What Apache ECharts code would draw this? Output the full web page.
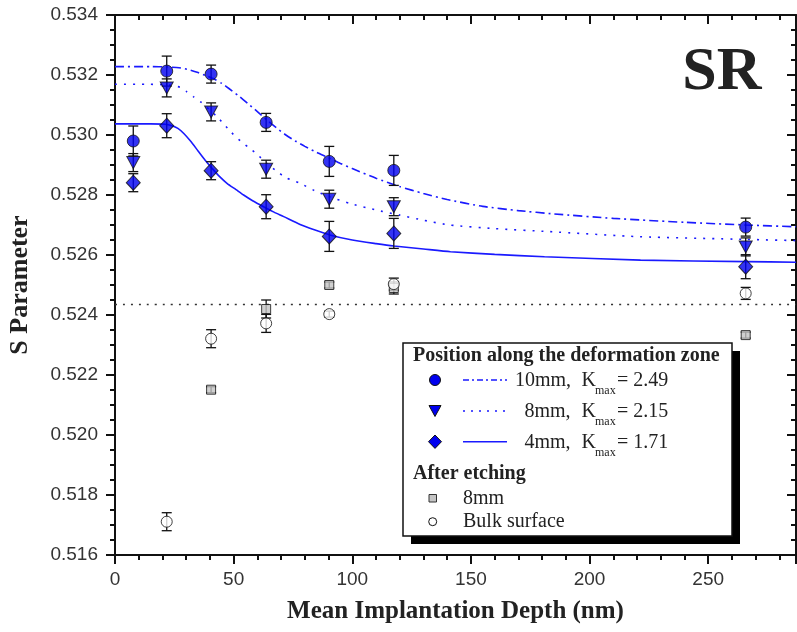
<!DOCTYPE html>
<html>
<head>
<meta charset="utf-8">
<script src="https://cdn.jsdelivr.net/npm/echarts@6/dist/echarts.min.js"></script>
<style>
  html, body { margin: 0; padding: 0; background: #fff; }
  #chart { width: 797px; height: 632px; }
</style>
</head>
<body>
<div id="chart"></div>
<script>
// measured points (depth in nm, S parameter, error)
const depth = [7.7, 21.8, 40.5, 63.7, 90.3, 117.5, 265.8];
const s10 = [0.5298, 0.53213, 0.53203, 0.53042, 0.52912, 0.52882, 0.52693];
const e10 = [0.0005, 0.0005, 0.0003, 0.0003, 0.0005, 0.0005, 0.0003];
const s8 = [0.52908, 0.53157, 0.53077, 0.52886, 0.52786, 0.52761, 0.52627];
const e8 = [0.0003, 0.0003, 0.0003, 0.0003, 0.0003, 0.0003, 0.0003];
const s4 = [0.52841, 0.53031, 0.52881, 0.52761, 0.52662, 0.52672, 0.52561];
const e4 = [0.0003, 0.0004, 0.0003, 0.0004, 0.0005, 0.0005, 0.0004];

// after etching
const etchDepth = [40.5, 63.7, 90.3, 117.5, 265.8];
const sEtch = [0.52151, 0.5242, 0.525, 0.5249, 0.52333];
const eEtch = [0.0001, 0.0003, 0.0001, 0.0002, 0.0001];
const bulkDepth = [21.8, 40.5, 63.7, 90.3, 117.5, 265.8];
const sBulk = [0.51711, 0.52321, 0.52372, 0.52403, 0.52503, 0.52472];
const eBulk = [0.0003, 0.0003, 0.0003, 0.0001, 0.0002, 0.0002];

// fitted curves
const fit10X = [0, 15, 22, 27, 31, 35, 39, 42, 45, 48, 52, 56, 60, 64, 68, 72, 76, 80, 85, 90, 95, 100, 110, 120, 130, 140, 155, 170, 185, 210, 240, 266, 287];
const fit10Y = [0.53228, 0.53228, 0.53227, 0.53224, 0.53218, 0.53208, 0.53196, 0.53186, 0.53172, 0.53155, 0.53131, 0.53105, 0.53078, 0.5305, 0.53024, 0.53, 0.5298, 0.52962, 0.52942, 0.52924, 0.52905, 0.52888, 0.52856, 0.52828, 0.52805, 0.52785, 0.52762, 0.52748, 0.52737, 0.52722, 0.52709, 0.527, 0.52694];
const fit8X = [0, 15, 20, 24, 27.5, 30.3, 33, 36, 40, 43, 46, 49, 52, 56, 60, 64, 68, 72, 78, 84, 90, 99, 110, 120, 130, 141, 160, 183, 221, 266, 287];
const fit8Y = [0.53169, 0.53169, 0.53168, 0.53165, 0.53159, 0.53144, 0.53128, 0.53111, 0.53083, 0.53061, 0.53035, 0.53009, 0.52986, 0.5296, 0.52935, 0.52905, 0.5288, 0.52858, 0.52839, 0.52815, 0.52795, 0.52772, 0.5275, 0.52733, 0.52716, 0.527, 0.52688, 0.52678, 0.52661, 0.52652, 0.52648];
const fit4X = [0, 15, 21, 24, 26.5, 29, 32, 35, 38, 41, 44, 47.2, 51, 54.2, 58, 62.6, 67, 71.1, 78, 84, 90.5, 100, 110, 117.5, 130, 141.4, 160, 181, 221.5, 266, 287];
const fit4Y = [0.53037, 0.53037, 0.53036, 0.53031, 0.53022, 0.53005, 0.52978, 0.52947, 0.52916, 0.52888, 0.52862, 0.52839, 0.52818, 0.528, 0.52781, 0.52761, 0.52743, 0.52728, 0.52702, 0.52684, 0.52667, 0.5265, 0.52638, 0.5263, 0.5262, 0.52611, 0.52602, 0.52594, 0.52583, 0.52578, 0.52576];

// dotted reference line
const bulkLineX = [0, 287];
const bulkLineY = [0.52435, 0.52435];

const xTicks = { min: 0, max: 287, interval: 50 };
const yTicks = { min: 0.516, max: 0.534, interval: 0.002 };

const blue = "#0000f0";
const lineBlue = "#1a1aff";
const serif = "Liberation Serif";
const sans = "Liberation Sans";

const chart = echarts.init(document.getElementById("chart"));

const pairs = (xs, ys) => xs.map((x, i) => [x, ys[i]]);
const triples = (xs, ys, es) => xs.map((x, i) => [x, ys[i], es[i]]);

function errorBars(xs, ys, es) {
  return {
    type: "custom",
    z: 3,
    silent: true,
    data: triples(xs, ys, es),
    renderItem: function (params, api) {
      const x = api.value(0);
      const y = api.value(1);
      const e = api.value(2);
      const top = api.coord([x, y + e]);
      const bot = api.coord([x, y - e]);
      const hw = 5;
      const st = { stroke: "#111", lineWidth: 1.3 };
      return {
        type: "group",
        children: [
          { type: "line", shape: { x1: top[0], y1: top[1], x2: bot[0], y2: bot[1] }, style: st },
          { type: "line", shape: { x1: top[0] - hw, y1: top[1], x2: top[0] + hw, y2: top[1] }, style: st },
          { type: "line", shape: { x1: bot[0] - hw, y1: bot[1], x2: bot[0] + hw, y2: bot[1] }, style: st },
        ],
      };
    },
  };
}

function fitLine(xs, ys, dash, color, width) {
  return {
    type: "line",
    data: pairs(xs, ys),
    symbol: "none",
    smooth: 0.2,
    z: 2,
    silent: true,
    lineStyle: { color: color || lineBlue, width: width || 1.6, type: dash },
  };
}

function dots(xs, ys, symbol, size, fill, rotate) {
  return {
    type: "scatter",
    data: pairs(xs, ys),
    symbol: symbol,
    symbolSize: size,
    symbolRotate: rotate || 0,
    z: 5,
    itemStyle: { color: fill, borderColor: "#111", borderWidth: 1 },
  };
}

const baseX = {
  type: "value",
  min: xTicks.min,
  max: xTicks.max,
  interval: xTicks.interval,
  splitLine: { show: false },
  axisLine: { show: true, onZero: false, lineStyle: { color: "#111", width: 2 } },
  minorTick: { show: true, splitNumber: 5, length: 5, lineStyle: { color: "#111", width: 2 } },
};
const baseY = {
  type: "value",
  min: yTicks.min,
  max: yTicks.max,
  interval: yTicks.interval,
  splitLine: { show: false },
  axisLine: { show: true, onZero: false, lineStyle: { color: "#111", width: 2 } },
  minorTick: { show: true, splitNumber: 4, length: 5, lineStyle: { color: "#111", width: 2 } },
};

const legendTextStyle = { font: '20px "' + serif + '"', fill: "#222", verticalAlign: "middle" };
const legendBold = { font: 'bold 20px "' + serif + '"', fill: "#222", verticalAlign: "middle" };
const subStyle = { font: '12px "' + serif + '"', fill: "#222", verticalAlign: "middle" };

function legendRow(y, label, labelX, kval) {
  return [
    { type: "text", style: Object.assign({ text: label, x: labelX, y: y }, legendTextStyle) },
    { type: "text", style: Object.assign({ text: "K", x: 581.5, y: y }, legendTextStyle) },
    { type: "text", style: Object.assign({ text: "max", x: 595, y: y + 10 }, subStyle) },
    { type: "text", style: Object.assign({ text: "= " + kval, x: 617, y: y }, legendTextStyle) },
  ];
}

const option = {
  animation: false,
  backgroundColor: "#fff",
  grid: { left: 115, top: 15, right: 1, bottom: 77, outerBoundsMode: "none", containLabel: false },
  xAxis: [
    Object.assign({}, baseX, {
      position: "bottom",
      name: "Mean Implantation Depth (nm)",
      nameLocation: "middle",
      nameGap: 44,
      nameTextStyle: { fontFamily: serif, fontWeight: "bold", fontSize: 25, color: "#222" },
      axisTick: { show: true, inside: false, length: 9, lineStyle: { color: "#111", width: 2 } },
      axisLabel: { show: true, margin: 15, fontFamily: sans, fontSize: 19, color: "#333", showMaxLabel: false },
    }),
    Object.assign({}, baseX, {
      position: "top",
      axisTick: { show: true, inside: true, length: 9, lineStyle: { color: "#111", width: 2 } },
      axisLabel: { show: false },
    }),
  ],
  yAxis: [
    Object.assign({}, baseY, {
      position: "left",
      name: "S Parameter",
      nameLocation: "middle",
      nameRotate: 90,
      nameGap: 82,
      nameTextStyle: { fontFamily: serif, fontWeight: "bold", fontSize: 26, color: "#222" },
      axisTick: { show: true, inside: false, length: 9, lineStyle: { color: "#111", width: 2 } },
      axisLabel: {
        show: true,
        margin: 17,
        fontFamily: sans,
        fontSize: 19,
        color: "#333",
        formatter: (v) => v.toFixed(3),
      },
    }),
    Object.assign({}, baseY, {
      position: "right",
      axisTick: { show: true, inside: true, length: 9, lineStyle: { color: "#111", width: 2 } },
      axisLabel: { show: false },
    }),
  ],
  series: [
    fitLine(bulkLineX, bulkLineY, [2, 6], "#333", 1.6),
    fitLine(fit10X, fit10Y, [9, 4, 2, 4]),
    fitLine(fit8X, fit8Y, [2, 7]),
    fitLine(fit4X, fit4Y, "solid"),
    errorBars(depth, s10, e10),
    errorBars(depth, s8, e8),
    errorBars(depth, s4, e4),
    errorBars(etchDepth, sEtch, eEtch),
    errorBars(bulkDepth, sBulk, eBulk),
    dots(depth, s10, "circle", 12, blue),
    dots(depth, s8, "triangle", [13, 12], blue, 180),
    dots(depth, s4, "diamond", [14, 15], blue),
    dots(etchDepth, sEtch, "rect", 9, "#c4c4c4"),
    dots(bulkDepth, sBulk, "circle", 11, "#fff"),
  ],
  graphic: [
    {
      type: "text",
      style: {
        text: "SR",
        x: 722,
        y: 73,
        align: "center",
        verticalAlign: "middle",
        font: 'bold 62px "' + serif + '"',
        fill: "#222",
      },
    },
    {
      type: "group",
      z: 100,
      children: [
        { type: "rect", shape: { x: 411, y: 351, width: 329, height: 193 }, style: { fill: "#000" } },
        { type: "rect", shape: { x: 403, y: 343, width: 329, height: 193 }, style: { fill: "#fff", stroke: "#111", lineWidth: 1.5 } },
        { type: "text", style: Object.assign({ text: "Position along the deformation zone", x: 413, y: 356 }, legendBold) },
        { type: "circle", shape: { cx: 435, cy: 380, r: 5.5 }, style: { fill: blue, stroke: "#111", lineWidth: 1 } },
        { type: "line", shape: { x1: 463, y1: 380, x2: 507, y2: 380 }, style: { stroke: lineBlue, lineWidth: 1.5, lineDash: [6, 3, 2, 3] } },
        { type: "polygon", shape: { points: [[429, 405.5], [441, 405.5], [435, 416.5]] }, style: { fill: blue, stroke: "#111", lineWidth: 1 } },
        { type: "line", shape: { x1: 463, y1: 411, x2: 507, y2: 411 }, style: { stroke: lineBlue, lineWidth: 1.5, lineDash: [2, 6] } },
        { type: "polygon", shape: { points: [[435, 435], [441.5, 441.7], [435, 448.4], [428.5, 441.7]] }, style: { fill: blue, stroke: "#111", lineWidth: 1 } },
        { type: "line", shape: { x1: 463, y1: 441.7, x2: 507, y2: 441.7 }, style: { stroke: lineBlue, lineWidth: 1.5 } },
        { type: "text", style: Object.assign({ text: "After etching", x: 413, y: 474 }, legendBold) },
        { type: "rect", shape: { x: 429, y: 494.5, width: 7.5, height: 7.5 }, style: { fill: "#c4c4c4", stroke: "#333", lineWidth: 1 } },
        { type: "text", style: Object.assign({ text: "8mm", x: 463, y: 499 }, legendTextStyle) },
        { type: "circle", shape: { cx: 432.7, cy: 521.7, r: 4 }, style: { fill: "#fff", stroke: "#111", lineWidth: 1 } },
        { type: "text", style: Object.assign({ text: "Bulk surface", x: 463, y: 522 }, legendTextStyle) },
      ]
        .concat(legendRow(381, "10mm,", 515, "2.49"))
        .concat(legendRow(412, "8mm,", 524.5, "2.15"))
        .concat(legendRow(442.5, "4mm,", 524.5, "1.71")),
    },
  ],
};

chart.setOption(option);
</script>
</body>
</html>
